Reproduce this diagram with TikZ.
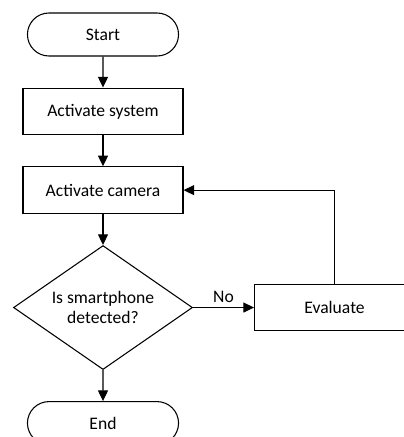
\documentclass[tikz,border=0pt]{standalone}
\usepackage{fontspec}
\setmainfont{Carlito}
\usetikzlibrary{arrows.meta,positioning,shapes.geometric,shapes.misc}

\begin{document}
\begin{tikzpicture}[
x=0.75pt, y=-0.75pt,
font=\fontsize{13.2}{15.5}\selectfont,
node distance=23.25pt and 45.75pt,
term/.style={draw, rounded rectangle, minimum width=120pt, minimum height=32.25pt, line width=0.8pt},
proc/.style={draw, minimum width=120pt, minimum height=35pt, align=center, line width=0.8pt},
dec/.style={draw, diamond, aspect=1.44, inner sep=0pt, minimum width=134.25pt, minimum height=93pt, align=center, line width=0.8pt},
arr/.style={-{Triangle[length=8pt,width=7.5pt]}, line width=0.8pt}
]
\useasboundingbox (0,0) rectangle (404,437);
\node[term] (start) at (103,34.5) {Start};
\node[proc, below=of start] (system) {Activate system};
\node[proc, below=of system] (camera) {Activate camera};
\node[dec, below=of camera] (check) {Is smartphone\\detected?};
\node[term, below=of check] (end) {End};
\node[proc, right=of check] (eval) {Evaluate};

\draw[arr] (start) -- (system);
\draw[arr] (system) -- (camera);
\draw[arr] (camera) -- (check);
\draw[arr] (check) -- (end);
\draw[arr] (check) -- node[above]{No} (eval);
\draw[arr] (eval.north) |- (camera.east);
\end{tikzpicture}
\end{document}
